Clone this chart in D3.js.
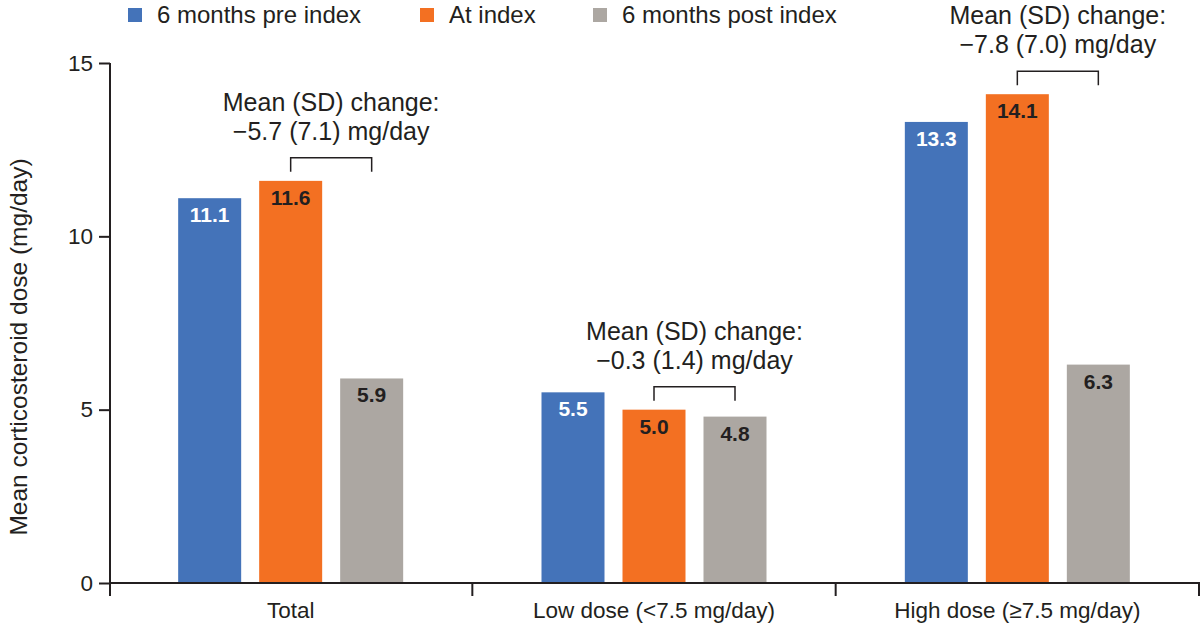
<!DOCTYPE html>
<html>
<head>
<meta charset="utf-8">
<script src="https://cdn.jsdelivr.net/npm/d3@7"></script>
<style>
  body { margin: 0; background: #fff; }
  svg { font-family: "Liberation Sans", Arial, sans-serif; }
</style>
</head>
<body>
<svg id="chart" width="1200" height="626"></svg>
<script>
// Chart data
var categories = ["Total", "Low dose (<7.5 mg/day)", "High dose (\u22657.5 mg/day)"];
var series = ["6 months pre index", "At index", "6 months post index"];
var colors = ["#4473b9", "#f37022", "#aca7a2"];
var labelColors = ["#ffffff", "#231f20", "#231f20"];
var preIndex = [11.1, 5.5, 13.3];
var atIndex = [11.6, 5.0, 14.1];
var postIndex = [5.9, 4.8, 6.3];
var changeText = ["\u22125.7 (7.1) mg/day", "\u22120.3 (1.4) mg/day", "\u22127.8 (7.0) mg/day"];
var yTicks = [0, 5, 10, 15];

var values = [preIndex, atIndex, postIndex];
var ink = "#231f20";

var svg = d3.select("#chart");

var x = d3.scaleBand()
  .domain(categories)
  .range([109, 1199])
  .paddingInner(0).paddingOuter(0);

// bars within a group: 63px wide with 18px gaps
var groupW = 225;
var xs = d3.scaleBand()
  .domain(series)
  .range([(x.bandwidth() - groupW) / 2, (x.bandwidth() + groupW) / 2])
  .paddingInner(18 / 81).paddingOuter(0);

var y = d3.scaleLinear().domain([0, 15]).range([583, 63]);

// bars
var rows = [];
categories.forEach(function(c, ci) {
  series.forEach(function(s, si) {
    rows.push({ cat: c, ser: s, si: si, v: values[si][ci] });
  });
});

var bars = svg.append("g").selectAll("g.bar")
  .data(rows)
  .enter().append("g")
    .attr("class", "bar");

bars.append("rect")
  .attr("x", function(d) { return x(d.cat) + xs(d.ser); })
  .attr("y", function(d) { return y(d.v); })
  .attr("width", xs.bandwidth())
  .attr("height", function(d) { return y(0) - y(d.v); })
  .attr("fill", function(d) { return colors[d.si]; });

bars.append("text")
  .attr("x", function(d) { return x(d.cat) + xs(d.ser) + xs.bandwidth() / 2; })
  .attr("y", function(d) { return y(d.v) + 24; })
  .attr("text-anchor", "middle")
  .attr("font-weight", "bold")
  .attr("font-size", 21)
  .attr("fill", function(d) { return labelColors[d.si]; })
  .text(function(d) { return d.v.toFixed(1); });

// y axis
var yAxis = svg.append("g")
  .attr("transform", "translate(110,0)")
  .call(d3.axisLeft(y).tickValues(yTicks).tickSize(11).tickPadding(6));
yAxis.select(".domain").attr("d", "M0," + y(15) + "V" + (y(0) + 13));
yAxis.selectAll("line").attr("stroke", ink).attr("stroke-width", 2);
yAxis.select(".domain").attr("stroke", ink).attr("stroke-width", 2);
yAxis.selectAll("text")
  .attr("font-size", 22.5)
  .attr("fill", ink)
  .attr("font-family", "Liberation Sans, Arial, sans-serif");

// x axis: baseline and group separators
var xAxis = svg.append("g");
xAxis.append("line")
  .attr("x1", 109).attr("x2", 1200)
  .attr("y1", y(0)).attr("y2", y(0))
  .attr("stroke", ink).attr("stroke-width", 2);
var edges = categories.map(function(c) { return x(c); }).concat([x.range()[1]]);
xAxis.selectAll("line.sep")
  .data(edges.slice(1))
  .enter().append("line")
    .attr("class", "sep")
    .attr("x1", function(d) { return d; })
    .attr("x2", function(d) { return d; })
    .attr("y1", y(0)).attr("y2", y(0) + 13)
    .attr("stroke", ink).attr("stroke-width", 2);
xAxis.selectAll("text")
  .data(categories)
  .enter().append("text")
    .attr("x", function(d) { return x(d) + x.bandwidth() / 2; })
    .attr("y", 618)
    .attr("text-anchor", "middle")
    .attr("font-size", 22.5)
    .attr("fill", ink)
    .text(function(d) { return d; });

// y axis title
svg.append("text")
  .attr("transform", "translate(27,347) rotate(-90)")
  .attr("text-anchor", "middle")
  .attr("font-size", 24.5)
  .attr("fill", ink)
  .text("Mean corticosteroid dose (mg/day)");

// change annotations: bracket from "At index" to "6 months post index"
categories.forEach(function(c, ci) {
  var x1 = x(c) + xs(series[1]) + xs.bandwidth() / 2;
  var x2 = x(c) + xs(series[2]) + xs.bandwidth() / 2;
  var legBottom = y(atIndex[ci]) - 9;
  var top = legBottom - 14;
  var g = svg.append("g");
  g.append("path")
    .attr("d", "M" + x1 + "," + legBottom + "V" + top + "H" + x2 + "V" + legBottom)
    .attr("fill", "none")
    .attr("stroke", ink)
    .attr("stroke-width", 1.5);
  var cx = (x1 + x2) / 2;
  g.append("text")
    .attr("x", cx).attr("y", top - 47)
    .attr("text-anchor", "middle")
    .attr("font-size", 25)
    .attr("fill", ink)
    .text("Mean (SD) change:");
  g.append("text")
    .attr("x", cx).attr("y", top - 18)
    .attr("text-anchor", "middle")
    .attr("font-size", 25)
    .attr("fill", ink)
    .text(changeText[ci]);
});

// legend
var legendX = [128, 420, 593];
var legend = svg.append("g").selectAll("g")
  .data(series)
  .enter().append("g")
    .attr("transform", function(d, i) { return "translate(" + legendX[i] + ",0)"; });
legend.append("rect")
  .attr("x", 0).attr("y", 8)
  .attr("width", 14).attr("height", 14)
  .attr("fill", function(d, i) { return colors[i]; });
legend.append("text")
  .attr("x", 29).attr("y", 23)
  .attr("font-size", 24)
  .attr("fill", ink)
  .text(function(d) { return d; });
</script>
</body>
</html>
